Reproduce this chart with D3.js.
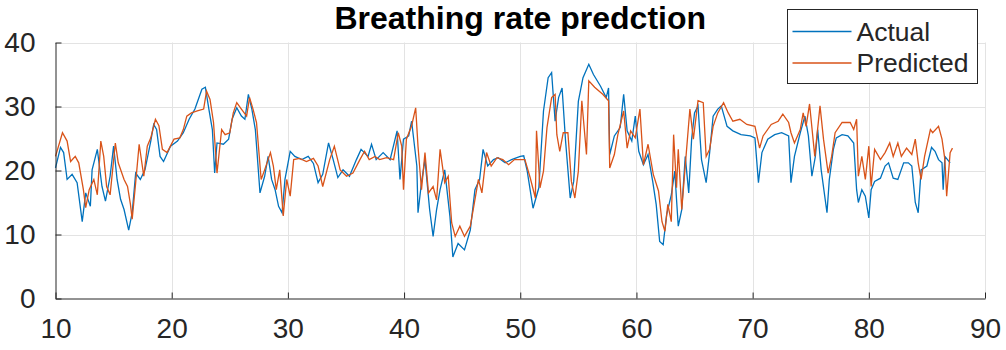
<!DOCTYPE html>
<html>
<head>
<meta charset="utf-8">
<script src="https://cdn.jsdelivr.net/npm/d3@7"></script>
<style>
  body { margin: 0; background: #fff; }
  text { font-family: "Liberation Sans", Arial, sans-serif; }
</style>
</head>
<body>
<svg id="chart" width="1006" height="350"></svg>
<script>
// data: [time, breaths/min]
const actual = [
  [10,20.4],[10.43,23.6],[10.7,22.8],[11.0,18.6],[11.43,19.4],[11.86,18.1],[12.3,12.0],[12.6,16.5],[13.0,14.4],[13.15,20.1],
  [13.6,23.3],[14.0,17.5],[14.3,15.2],[14.7,19.1],[15.0,23.8],[15.3,18.6],[15.6,15.5],[15.9,13.9],[16.3,10.7],[16.6,13.4],
  [16.9,19.6],[17.3,18.6],[17.7,20.1],[18.2,24.6],[18.45,27.2],[18.7,26.4],[19.0,22.2],[19.3,21.4],[19.9,23.8],[20.5,24.6],
  [21.0,25.9],[21.5,28.0],[22.0,29.6],[22.6,32.7],[22.9,33.0],[23.2,29.6],[23.5,26.4],[23.7,19.6],[23.9,24.3],[24.45,24.1],
  [24.9,24.9],[25.2,28.0],[25.6,29.8],[26.0,28.5],[26.3,28.0],[26.6,31.9],[26.9,29.6],[27.2,26.4],[27.6,16.5],[28.0,19.1],
  [28.3,22.2],[28.6,18.6],[28.9,17.0],[29.2,14.4],[29.5,13.4],[29.75,18.6],[30.2,23.0],[30.6,22.2],[31.2,21.7],[31.75,22.2],
  [32.2,21.1],[32.6,18.1],[33.0,19.4],[33.5,24.3],[33.9,21.7],[34.3,18.9],[34.75,20.1],[35.3,19.1],[35.9,21.7],[36.3,23.3],
  [36.9,22.2],[37.2,24.1],[37.6,21.7],[38.2,22.8],[38.8,21.7],[39.4,26.2],[39.65,18.6],[39.95,24.9],[40.4,25.4],[40.65,27.7],
  [41.1,20.7],[41.2,13.4],[41.5,18.1],[41.8,21.7],[42.2,13.9],[42.5,9.7],[42.8,13.9],[43.1,17.0],[43.5,20.1],[43.95,12.8],
  [44.2,6.5],[44.65,8.6],[45.2,7.6],[45.7,10.7],[46.1,17.0],[46.5,18.6],[46.8,23.3],[47.2,20.7],[47.7,21.7],[48.1,22.0],
  [48.7,21.2],[49.25,21.7],[50.0,22.2],[50.3,22.3],[50.6,19.9],[51.1,14.1],[51.6,17.3],[52.0,29.3],[52.4,34.5],[52.7,35.3],
  [53.0,27.7],[53.3,31.4],[53.6,32.9],[53.9,24.6],[54.3,15.7],[54.6,18.3],[55.0,30.8],[55.4,34.5],[55.9,36.6],[56.3,35.0],
  [56.9,33.2],[57.4,31.4],[57.6,32.9],[57.7,22.5],[58.1,25.4],[58.6,26.7],[58.9,31.9],[59.2,26.2],[59.6,24.6],[59.9,28.5],
  [60.2,23.0],[60.6,20.9],[61.0,22.5],[61.4,18.3],[61.7,14.7],[62.0,8.9],[62.3,8.4],[62.6,13.1],[63.0,16.2],[63.3,19.9],
  [63.45,15.5],[63.6,11.3],[63.9,13.9],[64.2,22.2],[64.5,16.5],[64.75,24.9],[65.0,29.0],[65.3,30.1],[65.6,21.7],[66.0,18.1],
  [66.3,22.8],[66.6,28.5],[67.0,29.6],[67.3,30.1],[67.8,26.9],[68.3,26.2],[69.0,25.6],[69.8,25.4],[70.2,25.1],[70.5,18.1],
  [70.8,22.8],[71.3,24.9],[71.9,25.6],[72.5,25.9],[73.1,25.4],[73.3,18.1],[73.6,22.2],[74.1,25.9],[74.5,28.5],[74.8,25.4],
  [75.1,19.1],[75.4,22.2],[75.6,26.4],[75.9,20.1],[76.4,13.4],[76.6,18.6],[76.95,23.3],[77.2,25.1],[77.7,25.6],[78.2,25.4],
  [78.7,24.3],[78.95,17.0],[79.1,15.0],[79.4,17.0],[79.7,16.0],[80.0,12.6],[80.2,17.0],[80.5,18.3],[81.0,18.8],[81.4,20.7],
  [81.7,21.2],[82.1,18.8],[82.5,18.6],[83.0,21.2],[83.4,21.2],[83.7,20.7],[84.0,15.0],[84.25,13.4],[84.5,20.1],[85.0,20.7],
  [85.4,23.6],[85.7,23.0],[86.0,21.7],[86.3,21.2],[86.4,17.0],[86.55,22.2],[87.0,21.2]
];

const predicted = [
  [10,22.2],[10.6,25.9],[11.0,24.6],[11.3,21.4],[11.7,22.2],[12.0,21.2],[12.4,17.0],[12.6,14.2],[12.9,17.0],[13.3,18.6],
  [13.6,16.2],[13.9,24.6],[14.15,22.2],[14.4,17.5],[14.7,16.2],[15.15,24.3],[15.4,21.2],[15.9,18.6],[16.2,17.5],[16.45,14.7],
  [16.6,12.4],[16.9,18.1],[17.2,24.1],[17.6,19.1],[17.9,23.8],[18.2,25.1],[18.6,28.0],[18.9,27.0],[19.2,23.3],[19.6,22.8],
  [20.2,24.9],[20.7,25.1],[21.0,26.4],[21.3,28.5],[21.7,29.0],[22.2,29.3],[22.75,29.6],[23.0,32.4],[23.3,31.1],[23.6,27.5],
  [23.9,19.6],[24.3,26.4],[24.6,25.6],[25.0,25.9],[25.3,29.0],[25.6,30.6],[26.0,29.6],[26.45,28.5],[26.7,31.4],[27.0,29.6],
  [27.3,27.5],[27.7,18.6],[28.0,20.1],[28.5,22.8],[28.75,20.7],[29.0,17.0],[29.3,20.1],[29.6,12.9],[29.9,18.6],[30.2,16.0],
  [30.5,21.7],[31.0,21.9],[31.6,21.4],[32.2,21.9],[32.6,20.7],[33.0,17.5],[33.6,21.7],[34.0,23.8],[34.5,20.1],[35.05,19.1],
  [35.6,19.6],[36.2,21.7],[36.6,23.0],[37.0,21.7],[37.5,22.2],[37.9,21.7],[38.5,22.0],[39.1,21.7],[39.5,25.9],[39.8,23.8],
  [39.95,17.0],[40.2,24.9],[40.65,27.0],[41.0,29.8],[41.2,23.8],[41.5,17.0],[41.8,22.8],[42.1,16.5],[42.5,17.5],[42.8,15.4],
  [43.1,23.3],[43.5,18.1],[43.8,19.1],[44.1,11.8],[44.4,9.7],[44.8,11.3],[45.2,9.7],[45.7,11.3],[46.0,14.4],[46.4,18.6],
  [46.7,16.5],[47.1,22.8],[47.5,20.7],[48.0,22.0],[48.5,21.7],[49.0,20.9],[49.5,21.7],[50.1,21.7],[50.4,21.7],[50.85,18.9],
  [51.3,15.7],[51.4,26.2],[51.7,17.3],[52.0,19.9],[52.3,26.7],[52.7,31.4],[53.0,31.9],[53.15,25.6],[53.4,23.0],[53.7,25.9],
  [54.1,25.9],[54.4,18.3],[54.7,15.7],[55.0,19.9],[55.3,30.9],[55.7,22.5],[55.9,34.0],[56.4,33.0],[57.1,31.9],[57.6,30.9],
  [57.7,20.4],[58.1,22.5],[58.4,25.6],[58.9,29.3],[59.2,23.5],[59.5,26.2],[59.9,25.1],[60.3,29.6],[60.6,20.9],[61.0,24.1],
  [61.45,19.4],[61.9,16.8],[62.2,12.0],[62.45,10.5],[62.7,14.7],[63.0,12.0],[63.2,25.6],[63.45,17.3],[63.6,23.3],[63.9,13.9],
  [64.2,20.7],[64.6,29.6],[64.9,24.9],[65.3,30.9],[65.75,30.6],[66.0,22.2],[66.3,23.3],[66.6,26.9],[67.0,29.0],[67.5,30.6],
  [67.9,29.0],[68.3,27.7],[68.9,28.0],[69.5,27.2],[70.2,26.9],[70.6,23.5],[70.9,25.4],[71.6,27.2],[72.2,27.7],[72.6,28.8],
  [73.1,27.5],[73.3,25.9],[73.6,24.3],[74.1,26.4],[74.35,29.0],[74.6,26.9],[74.9,30.4],[75.35,22.2],[75.8,30.1],[76.1,24.9],
  [76.5,19.6],[76.8,22.2],[77.1,25.9],[77.7,27.5],[78.4,27.5],[78.7,26.4],[78.95,28.0],[79.1,19.1],[79.4,22.2],[79.7,18.6],
  [80.0,23.8],[80.2,17.5],[80.5,23.3],[81.0,21.7],[81.4,22.8],[81.8,24.3],[82.1,22.2],[82.5,24.3],[82.8,22.2],[83.25,23.5],
  [83.7,22.5],[84.0,24.9],[84.25,21.2],[84.5,18.6],[84.8,22.2],[85.3,26.4],[85.5,25.9],[86.0,26.9],[86.3,24.9],[86.55,21.7],
  [86.7,16.0],[87.0,22.8],[87.2,23.5]
];

const xTicks = [10, 20, 30, 40, 50, 60, 70, 80, 90];
const yTicks = [0, 10, 20, 30, 40];
const seriesNames = ["Actual", "Predicted"];
const seriesColors = ["#0072BD", "#D95319"];
const titleText = "Breathing rate predction";

const svg = d3.select("#chart");
const margin = { top: 42.5, right: 21, bottom: 51.5, left: 55.5 };
const width = 1006, height = 350;
const axisColor = "#262626";

const x = d3.scaleLinear().domain([10, 90]).range([margin.left, width - margin.right]);
const y = d3.scaleLinear().domain([0, 40]).range([height - margin.bottom, margin.top]);

// grid
const grid = svg.append("g").attr("stroke", "#e3e3e3").attr("stroke-width", 1);
grid.selectAll(".gx").data(xTicks.slice(1)).join("line")
  .attr("x1", d => Math.round(x(d)) + 0.5).attr("x2", d => Math.round(x(d)) + 0.5)
  .attr("y1", y(40)).attr("y2", y(0));
grid.selectAll(".gy").data(yTicks.slice(1)).join("line")
  .attr("x1", x(10)).attr("x2", x(90))
  .attr("y1", d => Math.round(y(d)) + 0.5).attr("y2", d => Math.round(y(d)) + 0.5);

// series
const line = d3.line().x(d => x(d[0])).y(d => y(d[1]));
[actual, predicted].forEach((data, i) => {
  svg.append("path")
    .datum(data)
    .attr("fill", "none")
    .attr("stroke", seriesColors[i])
    .attr("stroke-width", 1.3)
    .attr("stroke-linejoin", "miter")
    .attr("d", line);
});

// axes (ticks pointing inward, MATLAB style)
const xAxis = g => g
  .attr("transform", "translate(0," + y(0) + ")")
  .call(d3.axisBottom(x).tickValues(xTicks).tickSize(-6).tickSizeOuter(0).tickPadding(20))
  .call(g => g.select(".domain").attr("stroke", axisColor))
  .call(g => g.selectAll(".tick line").attr("stroke", axisColor))
  .call(g => g.selectAll("text").attr("fill", axisColor).attr("font-size", 28)
    .attr("font-family", "Liberation Sans, Arial, sans-serif"));
const yAxis = g => g
  .attr("transform", "translate(" + x(10) + ",0)")
  .call(d3.axisLeft(y).tickValues(yTicks).tickSize(-6).tickSizeOuter(0).tickPadding(20))
  .call(g => g.select(".domain").attr("stroke", axisColor))
  .call(g => g.selectAll(".tick line").attr("stroke", axisColor))
  .call(g => g.selectAll("text").attr("fill", axisColor).attr("font-size", 28)
    .attr("font-family", "Liberation Sans, Arial, sans-serif"));

svg.append("g").call(xAxis);
svg.append("g").call(yAxis);

// title
svg.append("text")
  .attr("x", (x(10) + x(90)) / 2)
  .attr("y", 29)
  .attr("text-anchor", "middle")
  .attr("font-size", 32)
  .attr("font-weight", "bold")
  .attr("fill", "#000")
  .text(titleText);

// legend
const legend = svg.append("g").attr("transform", "translate(787.5,9.5)");
legend.append("rect")
  .attr("width", 190).attr("height", 74)
  .attr("fill", "#fff").attr("stroke", axisColor).attr("stroke-width", 1);
seriesNames.forEach((name, i) => {
  const row = legend.append("g").attr("transform", "translate(0," + (22 + i * 31.5) + ")");
  row.append("line").attr("x1", 5).attr("x2", 64)
    .attr("stroke", seriesColors[i]).attr("stroke-width", 1.3);
  row.append("text").attr("x", 69).attr("y", 9)
    .attr("font-size", 26.5).attr("fill", axisColor).text(name);
});
</script>
</body>
</html>
